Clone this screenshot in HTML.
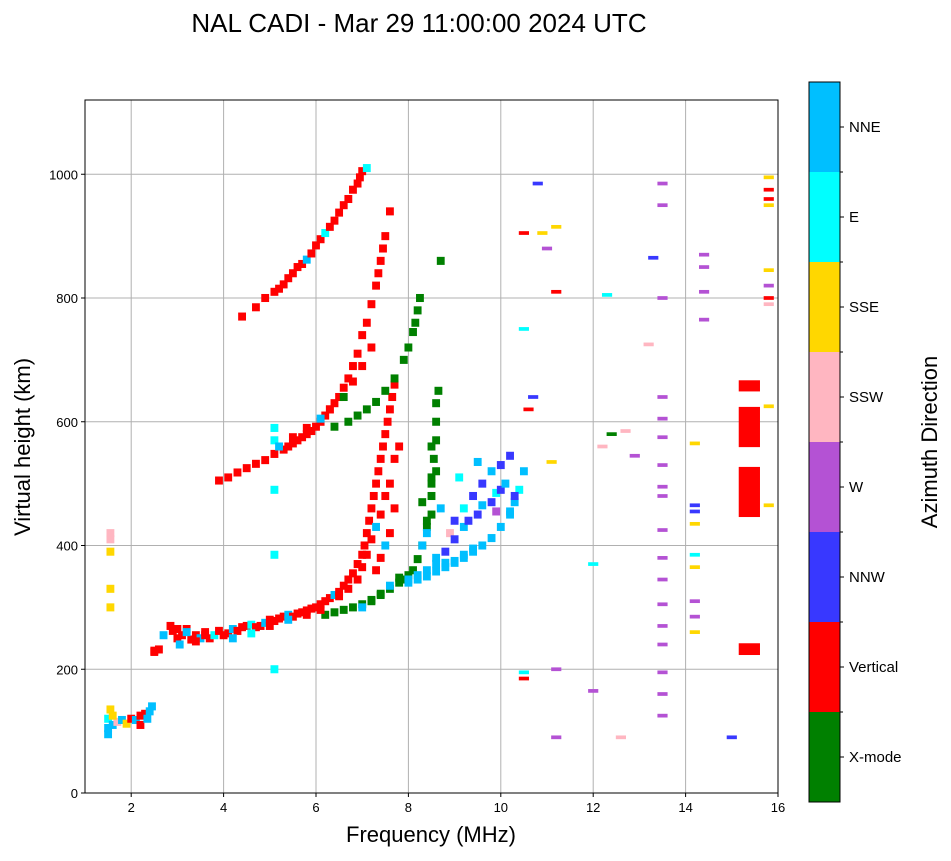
<!DOCTYPE html>
<html><head><meta charset="utf-8">
<style>
html,body{margin:0;padding:0;background:#fff;}
body{width:951px;height:856px;overflow:hidden;font-family:"Liberation Sans","DejaVu Sans",sans-serif;}
</style></head>
<body>
<svg id="chart" width="951" height="856" xmlns="http://www.w3.org/2000/svg">
<text x="419" y="32" font-size="26" text-anchor="middle">NAL CADI - Mar 29 11:00:00 2024 UTC</text>
<g id="grid"></g>
<g id="marks"></g>
<rect x="85" y="100" width="693" height="693" fill="none" stroke="#000" stroke-width="1"/>
<g id="axes"></g>
<text x="431" y="842" font-size="22" text-anchor="middle">Frequency (MHz)</text>
<text transform="translate(30,447) rotate(-90)" font-size="22" text-anchor="middle">Virtual height (km)</text>
<g id="cbar"></g>
<text transform="translate(937,442) rotate(-90)" font-size="22" text-anchor="middle">Azimuth Direction</text>
</svg>
<script>
const xTicks=[2,4,6,8,10,12,14,16];
const yTicks=[0,200,400,600,800,1000];
const categories=["X-mode","Vertical","NNW","W","SSW","SSE","E","NNE"];
const catColors=["#008000","#ff0000","#3838ff","#b452d4","#ffb6c1","#ffd700","#00ffff","#00bfff"];
// main traces: frequency (MHz), virtual height (km), category index
const freqs=[
1.5,1.5,1.55,1.6,1.7,1.8,1.9,2.0,2.1,2.2,2.3,2.4,2.45,2.5,1.55,1.55,1.5,1.6,2.2,2.35,
2.5,2.6,2.7,2.85,2.9,3.0,3.05,3.1,3.2,3.3,3.4,3.5,3.6,3.7,3.8,3.9,4.0,4.1,4.2,4.3,4.4,4.5,4.6,4.7,4.8,4.9,5.0,5.1,5.2,5.3,5.4,5.5,5.6,5.7,5.8,5.9,6.0,6.1,6.2,6.3,6.4,6.5,6.6,6.7,6.8,6.9,7.0,7.05,7.1,7.15,7.2,7.25,7.3,7.35,7.4,7.45,7.5,7.55,7.6,7.65,7.7,
6.2,6.4,6.6,6.8,7.0,7.2,7.4,7.6,7.8,7.9,8.0,8.1,8.2,8.3,8.4,8.5,8.5,8.5,8.55,8.6,8.6,8.6,8.65,8.7,
8.0,8.2,8.4,8.6,8.8,9.0,9.2,9.4,9.6,9.8,10.0,10.2,10.3,10.4,10.5,9.0,9.2,9.4,9.6,9.8,10.0,10.2,9.1,9.5,9.9,
6.4,6.7,6.9,7.1,7.3,7.5,7.7,7.9,8.0,8.1,8.15,8.2,8.25,
3.9,4.1,4.3,4.5,4.7,4.9,5.1,5.3,5.4,5.5,5.6,5.7,5.8,5.9,6.0,6.1,6.2,6.3,6.4,6.5,6.6,6.7,6.8,6.9,7.0,7.1,7.2,7.3,7.35,7.4,7.45,7.5,7.6,
4.4,4.7,4.9,5.1,5.2,5.3,5.4,5.5,5.6,5.7,5.8,5.9,6.0,6.1,6.2,6.3,6.4,6.5,6.6,6.7,6.8,6.9,6.95,7.0,7.1,
5.1,5.1,5.1,5.1,5.1,
// thickening echoes
6.5,6.7,6.9,7.0,7.1,7.2,7.3,7.4,7.5,7.6,7.7,7.8,7.3,7.4,7.5,7.6,7.7,
7.0,7.2,7.4,7.6,7.8,8.0,8.2,8.4,8.6,8.8,9.0,9.2,9.4,
8.3,8.4,8.6,8.8,8.9,9.0,9.2,9.3,9.5,9.6,9.8,9.9,10.0,10.1,10.2,10.3,
8.3,8.5,8.7,8.4,8.6,8.5,
3.0,3.2,3.4,3.6,4.2,4.6,5.0,5.4,5.8,6.1,
5.2,5.5,5.8,6.1,6.3,6.6,6.8,7.0,7.2,1.55,1.55,1.55];
const heights=[
95,120,135,110,115,118,112,120,118,125,128,132,140,230,410,330,105,125,110,120,
228,232,255,270,262,250,240,255,265,248,255,250,260,250,255,262,255,258,265,262,268,270,272,268,270,275,280,278,282,285,288,285,290,292,295,298,300,305,310,315,320,325,335,345,355,370,385,400,420,440,460,480,500,520,540,560,580,600,620,640,660,
288,292,296,300,305,312,320,330,340,345,352,360,378,400,430,450,480,510,540,570,600,630,650,860,
340,345,350,358,365,372,380,390,400,412,430,450,470,490,520,440,460,480,500,520,530,545,510,535,455,
592,600,610,620,632,650,670,700,720,745,760,780,800,
505,510,518,525,532,538,548,555,560,565,570,575,580,585,592,600,610,620,630,640,655,670,690,710,740,760,790,820,840,860,880,900,940,
770,785,800,810,815,822,832,840,850,855,862,872,885,895,905,915,925,938,950,960,975,985,995,1005,1010,
590,570,490,385,200,
318,330,345,365,385,410,430,450,480,500,540,560,360,380,400,420,460,
300,310,322,335,348,345,352,360,370,372,375,385,395,
400,420,380,390,420,410,430,440,450,465,470,485,490,500,455,480,
470,500,460,440,520,560,
265,260,245,255,250,258,270,280,288,296,
560,575,590,605,620,640,665,690,720,300,390,420];
const cats=[
7,6,5,7,4,7,5,1,7,1,1,7,7,1,4,5,7,5,1,7,
1,1,7,1,1,1,7,1,1,1,1,7,1,1,6,1,1,1,7,1,1,1,6,1,1,7,1,1,1,1,7,1,1,1,1,1,1,1,1,1,7,1,1,1,1,1,1,1,1,1,1,1,1,1,1,1,1,1,1,1,1,
0,0,0,0,0,0,0,0,0,0,0,0,0,0,0,0,0,0,0,0,0,0,0,0,
7,7,7,7,7,7,7,7,7,7,7,7,7,6,7,2,6,2,2,7,2,2,6,7,3,
0,0,0,0,0,0,0,0,0,0,0,0,0,
1,1,1,1,1,1,1,1,1,1,1,1,1,1,1,1,1,1,1,1,1,1,1,1,1,1,1,1,1,1,1,1,1,
1,1,1,1,1,1,1,1,1,1,7,1,1,1,6,1,1,1,1,1,1,1,1,1,6,
6,6,6,6,6,
1,1,1,1,1,1,7,1,1,1,1,1,1,1,7,1,1,
7,0,0,7,0,7,7,7,7,7,7,7,7,
7,7,7,2,4,2,7,2,2,7,2,6,2,7,7,2,
0,0,7,0,0,0,
1,7,1,1,7,6,1,7,1,1,
7,1,1,7,1,0,1,1,1,5,5,4];
// scattered echoes at high frequency
const scatFreqs=[10.5,10.5,10.8,10.9,11.0,11.2,11.2,10.6,10.7,11.1,12.3,12.4,12.2,12.7,12.9,13.2,13.3,
13.5,13.5,13.5,13.5,13.5,13.5,13.5,13.5,13.5,13.5,13.5,13.5,13.5,13.5,13.5,13.5,13.5,13.5,
14.2,14.2,14.2,14.2,14.2,14.2,14.4,14.4,14.4,14.4,14.2,14.2,14.2,15.0,
15.8,15.8,15.8,15.8,15.8,15.8,15.8,15.8,15.8,15.8,12.0,12.0,11.2,12.6,10.5,10.5,11.2];
const scatHeights=[905,750,985,905,880,915,810,620,640,535,805,580,560,585,545,725,865,
985,950,800,640,605,575,530,495,480,425,380,345,305,270,240,195,160,125,
565,455,435,385,365,260,870,850,810,765,310,285,465,90,
995,975,960,950,845,820,800,790,625,465,370,165,90,90,195,185,200];
const scatCats=[1,6,2,5,3,5,1,1,2,5,6,0,4,4,3,4,2,
3,3,3,3,3,3,3,3,3,3,3,3,3,3,3,3,3,3,
5,2,5,6,5,5,3,3,3,3,3,3,2,2,
5,1,1,5,5,3,1,4,5,5,6,3,3,4,6,1,3];
// solid vertical blocks near 15.4 MHz (low/high km)
const blockLows=[223,446,559,649];
const blockHighs=[242,527,624,667];
const blockFreq=15.38;
const ns="http://www.w3.org/2000/svg";
const X0=85,X1=778,Y0=793,Y1=100,FMIN=1,FMAX=16,HMIN=0,HMAX=1120;
function xs(f){return X0+(f-FMIN)/(FMAX-FMIN)*(X1-X0);}
function ys(h){return Y0-(h-HMIN)/(HMAX-HMIN)*(Y0-Y1);}
function mk(tag,attrs,parent){const e=document.createElementNS(ns,tag);for(const k in attrs)e.setAttribute(k,attrs[k]);parent.appendChild(e);return e;}
const grid=document.getElementById('grid'),axes=document.getElementById('axes'),marks=document.getElementById('marks'),cbar=document.getElementById('cbar');
xTicks.forEach(t=>{const x=xs(t);
 const g=mk('line',{x1:x,x2:x,y1:Y1,y2:Y0,stroke:'#b0b0b0','stroke-width':1},grid);
 
 
 mk('line',{x1:x,x2:x,y1:Y0,y2:Y0+4,stroke:'#000'},axes);
 const tx=mk('text',{x:x,y:Y0+19,'font-size':13,'text-anchor':'middle'},axes);tx.textContent=t;
 
 
});
yTicks.forEach(t=>{const y=ys(t);
 const g=mk('line',{x1:X0,x2:X1,y1:y,y2:y,stroke:'#b0b0b0','stroke-width':1},grid);
 
 
 mk('line',{x1:X0-4,x2:X0,y1:y,y2:y,stroke:'#000'},axes);
 const tx=mk('text',{x:X0-7,y:y+5,'font-size':13,'text-anchor':'end'},axes);tx.textContent=t;
 
 
});
function cells(F,H,C,cw,ch){
 for(let i=0;i<F.length;i++){
  const r=mk('rect',{x:xs(F[i]-cw/2),y:ys(H[i]+ch/2),width:xs(cw)-xs(0),height:ys(0)-ys(ch),fill:catColors[C[i]]},marks);
  
  
 }
}
cells(freqs,heights,cats,0.17,13);
cells(scatFreqs,scatHeights,scatCats,0.22,6);
for(let i=0;i<blockLows.length;i++){
 const r=mk('rect',{x:xs(blockFreq-0.23),y:ys(blockHighs[i]),width:xs(0.46)-xs(0),height:ys(blockLows[i])-ys(blockHighs[i]),fill:catColors[1]},marks);
 
 
}
const CX=809,CWd=31,CT=82,CB=802,seg=(CB-CT)/categories.length;
categories.forEach((c,i)=>{const y=CB-(i+1)*seg;
 const r=mk('rect',{x:CX,y:y,width:CWd,height:seg,fill:catColors[i]},cbar);
 
 
 mk('line',{x1:CX+CWd,x2:CX+CWd+4,y1:y+seg/2,y2:y+seg/2,stroke:'#000'},cbar);
 if(i>0) mk('line',{x1:CX+CWd,x2:CX+CWd+3,y1:y+seg,y2:y+seg,stroke:'#000'},cbar);
 const t=mk('text',{x:CX+CWd+9,y:y+seg/2+5,'font-size':15},cbar);t.textContent=c;
 
 
});
mk('rect',{x:CX,y:CT,width:CWd,height:CB-CT,fill:'none',stroke:'#000'},cbar);
</script>
</body></html>
